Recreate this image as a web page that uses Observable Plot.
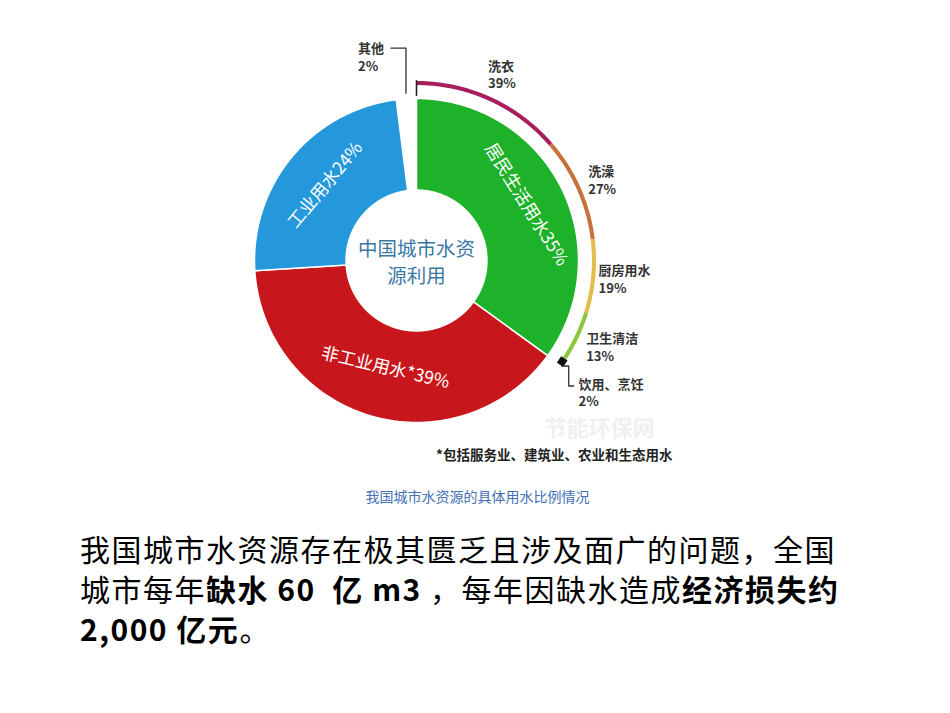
<!DOCTYPE html>
<html>
<head>
<meta charset="utf-8">
<script src="https://cdn.jsdelivr.net/npm/d3@7"></script>
<script src="https://cdn.jsdelivr.net/npm/@observablehq/plot@0.6"></script>
<style>
  html, body { margin: 0; padding: 0; background: #fff; width: 950px; height: 713px; overflow: hidden; }
  #chart { position: absolute; left: 0; top: 0; }
  #body { position: absolute; left: 80px; top: 528px; font-family: "Noto Sans CJK SC", sans-serif; font-size: 30px; line-height: 40px; letter-spacing: 1.5px; color: #000; white-space: nowrap; }
  #body b { font-weight: 700; }
</style>
</head>
<body>
<div id="chart"></div>
<div id="body">我国城市水资源存在极其匮乏且涉及面广的问题，全国<br>城市每年<b>缺水 60&nbsp; 亿 m3</b> ，每年因缺水造成<b>经济损失约<br>2,000 亿元</b>。</div>
<script>
// ---- data ----
const categories = ["居民生活用水", "非工业用水*", "工业用水", "其他"];
const shares = [35, 39, 24, 2];
const subCategories = ["洗衣", "洗澡", "厨房用水", "卫生清洁", "饮用、烹饪"];
const subShares = [39, 27, 19, 13, 2];
const centerTitle = ["中国城市水资", "源利用"];
const footnote = "*包括服务业、建筑业、农业和生态用水";
const caption = "我国城市水资源的具体用水比例情况";
const watermark = "节能环保网";

// ---- styles ----
const sliceColors = ["#1db22a", "#c8161d", "#2598dc", "none"];
const subColors = ["#a81d5c", "#c7723a", "#e3bd4c", "#8cc63f", "#111111"];

// ---- geometry helpers ----
const PX = 162;             // pixels per unit radius
const CX = 416, CY = 260, W = 950, H = 520;
const R_IN = 0.435, R_OUT = 1.0, RING_IN = 1.083, RING_OUT = 1.108;
const deg = Math.PI / 180;
const total = d3.sum(shares);
const pol = (a, r) => ({x: r * Math.sin(a), y: r * Math.cos(a)});

function arcPts(key, color, a0, a1, r0, r1) {
  const n = Math.max(2, Math.ceil((a1 - a0) / (0.5 * deg)));
  const pts = [];
  for (let i = 0; i <= n; i++) { const a = a0 + (a1 - a0) * i / n; pts.push({key, color, ...pol(a, r1)}); }
  for (let i = n; i >= 0; i--) { const a = a0 + (a1 - a0) * i / n; pts.push({key, color, ...pol(a, r0)}); }
  return pts;
}

// main slices
const slices = [];
let acc = 0;
categories.forEach((c, i) => {
  const a0 = acc / total * 2 * Math.PI; acc += shares[i];
  const a1 = acc / total * 2 * Math.PI;
  slices.push({cat: c, share: shares[i], a0, a1, mid: (a0 + a1) / 2, color: sliceColors[i]});
});
const slicePts = slices.filter(s => s.color !== "none").flatMap(s => arcPts(s.cat, s.color, s.a0, s.a1, R_IN, R_OUT));

// sub ring inside the 居民生活用水 span
const home = slices[0];
const subTotal = d3.sum(subShares);
const subs = [];
let sacc = 0;
subCategories.forEach((c, i) => {
  const a0 = home.a0 + (home.a1 - home.a0) * sacc / subTotal; sacc += subShares[i];
  const a1 = home.a0 + (home.a1 - home.a0) * sacc / subTotal;
  subs.push({cat: c, share: subShares[i], a0, a1, mid: (a0 + a1) / 2, color: subColors[i]});
});
const subPts = subs.flatMap((s, i) => arcPts(s.cat, s.color, s.a0, s.a1, i === 4 ? RING_IN - 0.012 : RING_IN, i === 4 ? RING_OUT + 0.01 : RING_OUT));

// labels inside slices (tangential)
const sliceLabelText = ["居民生活用水35%", "非工业用水*39%", "工业用水24%"];
const sliceLabels = slices.slice(0, 3).map((s, i) => {
  let rot = s.mid / deg;
  if (rot > 90 && rot < 270) rot -= 180;
  if (rot >= 270) rot -= 360;
  if (i === 0) rot -= 5;
  if (i === 1) rot -= 3;
  const r = i === 0 ? 0.76 : (i === 1 ? 0.69 : 0.73);
  return {text: sliceLabelText[i], rot, ...pol(s.mid, r)};
});

// center title lines
const titleLines = centerTitle.map((t, i) => ({text: t, x: 0, y: (11 - i * 27.5) / PX}));

// sub-ring labels
const off = {"洗衣": [0, -4], "饮用、烹饪": [9, 17], "厨房用水": [-6, 0]};
const subLabels = subs.map(s => {
  const p = pol(s.mid, 1.24);
  const o = off[s.cat] || [0, 0];
  return {text: s.cat + "\n" + s.share + "%", x: p.x + (o[0] - 12) / PX, y: p.y - o[1] / PX};
});

// 其他 label + leader
const other = slices[3];
const otherBottom = pol(other.mid, 1.035);
const otherLabel = [{text: other.cat + "\n" + other.share + "%", x: otherBottom.x - 48 / PX, y: otherBottom.y + 37 / PX}];
const otherLeader = [
  {x: otherBottom.x - 15 / PX, y: otherBottom.y + 45 / PX},
  {x: otherBottom.x, y: otherBottom.y + 45 / PX},
  otherBottom
];

// 饮用 leader
const drink = subs[4];
const dStart = pol(drink.a1, RING_OUT);
const drinkLeader = [
  dStart,
  {x: dStart.x + 7 / PX, y: dStart.y},
  {x: dStart.x + 7 / PX, y: dStart.y - 20 / PX},
  {x: dStart.x + 12 / PX, y: dStart.y - 20 / PX}
];

// tick at the start of the sub ring
const startTick = [pol(home.a0, 1.02), pol(home.a0, 1.11)];

const chart = Plot.plot({
  width: W, height: H,
  margin: 0,
  x: {domain: [-CX / PX, (W - CX) / PX], axis: null},
  y: {domain: [-(H - CY) / PX, CY / PX], axis: null},
  color: {type: "identity"},
  style: {background: "transparent"},
  marks: [
    Plot.text([watermark], {x: [1.13], y: [-1.04], text: d => d, fill: "#f0f0f0", fontSize: 22, fontWeight: "bold", fontFamily: "Noto Sans CJK SC"}),
    Plot.line(slicePts, {x: "x", y: "y", z: "key", fill: "color", stroke: "white", strokeWidth: 1.5, curve: "linear-closed"}),
    Plot.line(subPts, {x: "x", y: "y", z: "key", fill: "color", stroke: "none", curve: "linear-closed"}),
    Plot.line(startTick, {x: "x", y: "y", stroke: "#222", strokeWidth: 1.6}),
    Plot.line(otherLeader, {x: "x", y: "y", stroke: "#333", strokeWidth: 1.3}),
    Plot.line(drinkLeader, {x: "x", y: "y", stroke: "#333", strokeWidth: 1.3}),
    Plot.text(sliceLabels, {x: "x", y: "y", text: "text", rotate: "rot", fill: "white", fontSize: 17.5, fontFamily: "Noto Sans CJK SC"}),
    Plot.text(titleLines, {x: "x", y: "y", text: "text", fill: "#3a78a4", fontSize: 19.5, fontFamily: "Noto Sans CJK SC"}),
    Plot.text(subLabels, {x: "x", y: "y", text: "text", textAnchor: "start", fill: "#333", fontSize: 13, fontWeight: "bold", lineHeight: 1.35, fontFamily: "Noto Sans CJK SC"}),
    Plot.text(otherLabel, {x: "x", y: "y", text: "text", textAnchor: "start", fill: "#333", fontSize: 13, fontWeight: "bold", lineHeight: 1.35, fontFamily: "Noto Sans CJK SC"}),
    Plot.text([footnote], {x: [1.58], y: [-1.204], text: d => d, textAnchor: "end", fill: "#222", fontSize: 13.5, fontWeight: "bold", fontFamily: "Noto Sans CJK SC"}),
    Plot.text([caption], {x: [0.377], y: [-1.463], text: d => d, fill: "#4470b6", fontSize: 14, fontFamily: "Noto Sans CJK SC"})
  ]
});
document.getElementById("chart").appendChild(chart);
</script>
</body>
</html>
